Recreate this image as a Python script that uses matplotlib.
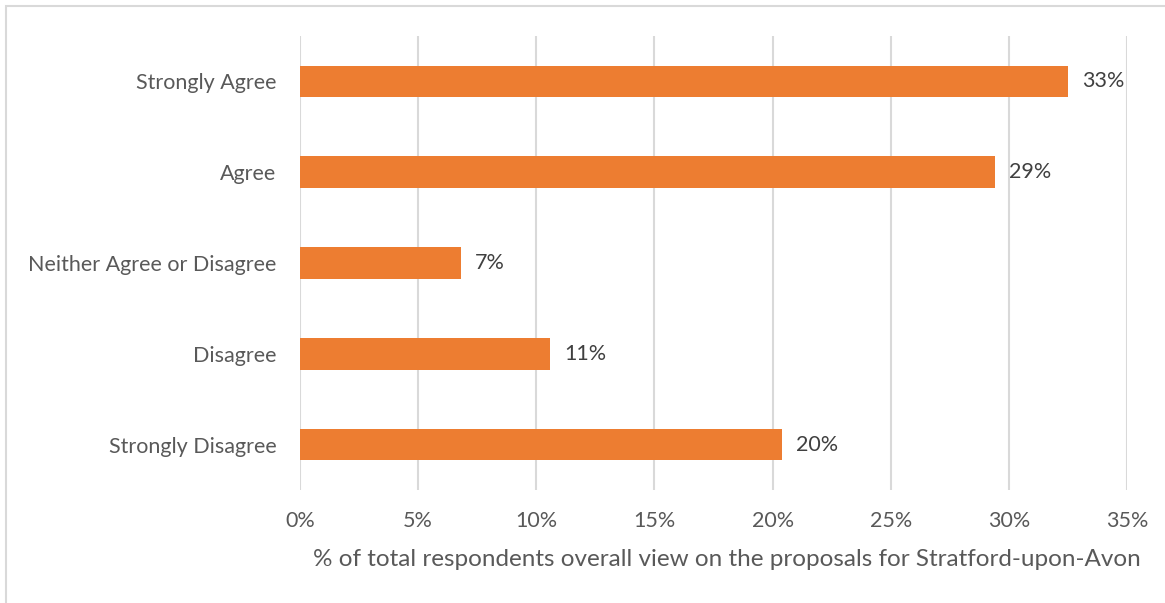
import matplotlib.pyplot as plt
from matplotlib.patches import Rectangle

categories = ["Strongly Agree", "Agree", "Neither Agree or Disagree", "Disagree", "Strongly Disagree"]
values = [32.5, 29.4, 6.8, 10.6, 20.4]
labels = ["33%", "29%", "7%", "11%", "20%"]
xticks = [0, 5, 10, 15, 20, 25, 30, 35]

plt.rcParams['font.family'] = ['Lato', 'DejaVu Sans']

fig = plt.figure(figsize=(11.65, 6.03), dpi=100)
ax = fig.add_axes([300/1165, 1 - 490/603, 827/1165, 454/603])

# chart frame (only left/top visible in the crop)
fig.patches.append(Rectangle((6/1165, -0.1), 1.2, 1 - 6/603 + 0.1, transform=fig.transFigure,
                             fill=False, edgecolor="#d9d9d9", linewidth=1.5))

ypos = list(range(len(categories)))
ax.barh(ypos, values, height=0.35, color="#ED7D31", zorder=3)
for y, v, lab in zip(ypos, values, labels):
    ax.text(v + 0.6, y, lab, va="center", ha="left", fontsize=15.5, color="#404040")

ax.set_ylim(len(categories) - 0.5, -0.5)
ax.set_xlim(0, 35)
ax.set_yticks(ypos)
ax.set_yticklabels(categories, fontsize=15.5, color="#595959")
ax.set_xticks(xticks)
ax.set_xticklabels([f"{t}%" for t in xticks], fontsize=15.5, color="#595959")
ax.tick_params(length=0)
ax.tick_params(axis="y", pad=17)
ax.tick_params(axis="x", pad=15)
ax.grid(axis="x", color="#d9d9d9", linewidth=1.5, zorder=0)
for s in ax.spines.values():
    s.set_visible(False)

fig.text(727/1165, 1 - 560/603, "% of total respondents overall view on the proposals for Stratford-upon-Avon",
         ha="center", va="center", fontsize=17.5, color="#595959")

fig.savefig("out.png", dpi=100)
